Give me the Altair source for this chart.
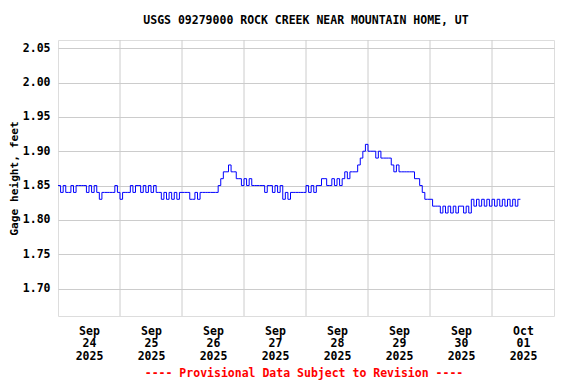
import altair as alt
import pandas as pd

TITLE = "USGS 09279000 ROCK CREEK NEAR MOUNTAIN HOME, UT"
Y_TITLE = "Gage height, feet"
FOOTER = "---- Provisional Data Subject to Revision ----"

# hourly gage height readings (feet), starting 2025-09-24 00:00
sep24 = [1.85, 1.84, 1.85, 1.84, 1.84, 1.85, 1.84, 1.85, 1.85, 1.85, 1.85, 1.84,
         1.85, 1.84, 1.85, 1.84, 1.83, 1.84, 1.84, 1.84, 1.84, 1.84, 1.85, 1.84]
sep25 = [1.83, 1.84, 1.84, 1.84, 1.85, 1.84, 1.85, 1.85, 1.84, 1.85, 1.84, 1.85,
         1.84, 1.85, 1.84, 1.84, 1.83, 1.84, 1.83, 1.84, 1.83, 1.84, 1.83, 1.84]
sep26 = [1.84, 1.84, 1.84, 1.83, 1.83, 1.84, 1.83, 1.84, 1.84, 1.84, 1.84, 1.84,
         1.84, 1.84, 1.85, 1.86, 1.87, 1.87, 1.88, 1.87, 1.87, 1.86, 1.86, 1.85]
sep27 = [1.86, 1.85, 1.86, 1.85, 1.85, 1.85, 1.85, 1.85, 1.84, 1.85, 1.85, 1.84,
         1.85, 1.84, 1.85, 1.83, 1.84, 1.83, 1.84, 1.84, 1.84, 1.84, 1.84, 1.84]
sep28 = [1.85, 1.84, 1.85, 1.84, 1.85, 1.85, 1.86, 1.86, 1.85, 1.85, 1.86, 1.85,
         1.86, 1.85, 1.86, 1.87, 1.86, 1.87, 1.87, 1.87, 1.88, 1.89, 1.90, 1.91]
sep29 = [1.90, 1.90, 1.90, 1.89, 1.90, 1.89, 1.89, 1.89, 1.89, 1.88, 1.87, 1.88,
         1.87, 1.87, 1.87, 1.87, 1.87, 1.87, 1.86, 1.86, 1.85, 1.84, 1.83, 1.83]
sep30 = [1.83, 1.82, 1.82, 1.82, 1.81, 1.82, 1.81, 1.82, 1.81, 1.82, 1.81, 1.82,
         1.82, 1.81, 1.82, 1.81, 1.83, 1.82, 1.83, 1.82, 1.83, 1.82, 1.83, 1.82]
oct01 = [1.83, 1.82, 1.83, 1.82, 1.83, 1.82, 1.83, 1.82, 1.83, 1.82, 1.83, 1.83]

values = sep24 + sep25 + sep26 + sep27 + sep28 + sep29 + sep30 + oct01
times = pd.date_range("2025-09-24 00:00", periods=len(values), freq="h")
df = pd.DataFrame({"time": times, "gage": values})

midnights = pd.DataFrame({"time": pd.date_range("2025-09-25", "2025-10-01", freq="D")})
noon_ticks = [alt.DateTime(year=2025, month=9, date=d, hours=12) for d in range(24, 31)] + \
             [alt.DateTime(year=2025, month=10, date=1, hours=12)]
y_ticks = [1.70, 1.75, 1.80, 1.85, 1.90, 1.95, 2.00, 2.05]

FONT = "DejaVu Sans Mono"

xscale = alt.Scale(domain=[alt.DateTime(year=2025, month=9, date=24),
                           alt.DateTime(year=2025, month=10, date=2)])
yscale = alt.Scale(domain=[1.66, 2.062], nice=False, zero=False)

grid = alt.Chart(midnights).mark_rule(color="#cccccc", strokeWidth=1).encode(
    x=alt.X("time:T", scale=xscale)
)

line = alt.Chart(df).mark_line(color="#0000ff", strokeWidth=1, interpolate="step-after").encode(
    x=alt.X("time:T", scale=xscale,
            axis=alt.Axis(values=noon_ticks, grid=False, ticks=False, domain=False,
                          labelExpr="[timeFormat(datum.value, '%b'), timeFormat(datum.value, '%d'), timeFormat(datum.value, '%Y')]",
                          labelFont=FONT, labelFontSize=11.5, labelFontWeight="bold",
                          labelColor="black", labelLineHeight=12.5, labelPadding=9,
                          labelAngle=0, title=None)),
    y=alt.Y("gage:Q", scale=yscale,
            axis=alt.Axis(values=y_ticks, format=".2f", grid=True, gridColor="#cccccc",
                          ticks=False, domain=False, labelFont=FONT, labelFontSize=11.5,
                          labelFontWeight="bold", labelColor="black", labelPadding=8,
                          title=Y_TITLE, titleFont=FONT, titleFontSize=11.2,
                          titleFontWeight="bold", titleColor="black", titlePadding=3)),
)

footer = alt.Chart(pd.DataFrame({"t": [FOOTER]})).mark_text(
    font=FONT, fontSize=11.5, fontWeight="bold", color="#ff0000", baseline="middle"
).encode(text="t:N", x=alt.value(246), y=alt.value(334))

chart = alt.layer(grid, line, footer).properties(
    width=496, height=276,
    title=alt.TitleParams(TITLE, font=FONT, fontSize=11.5, fontWeight="bold",
                          color="black", anchor="middle", offset=13),
    autosize=alt.AutoSizeParams(type="none"),
    padding={"left": 50, "top": 32, "right": 14, "bottom": 66},
).configure_view(stroke="black", strokeWidth=1).configure(background="white")

chart.save("out.html", embed_options={"renderer": "svg", "actions": False})
